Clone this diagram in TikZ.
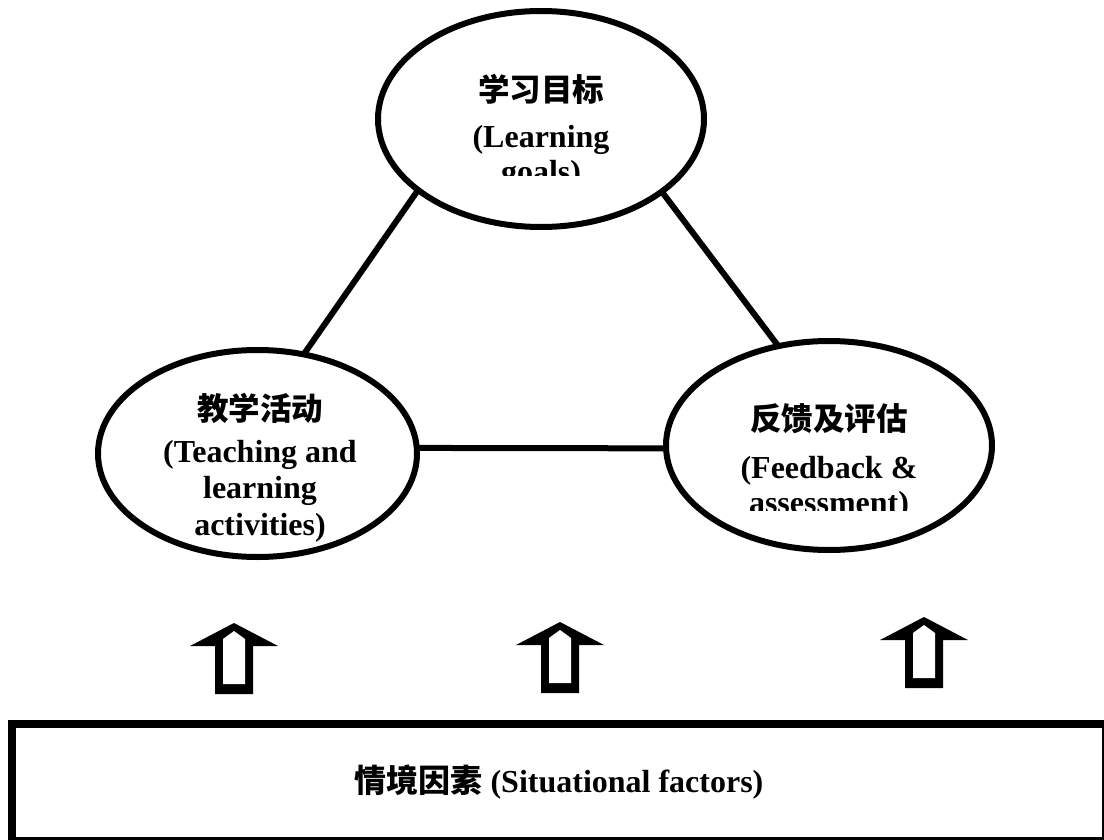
\documentclass[tikz,border=0pt]{standalone}
\usepackage{fontspec}
\setmainfont{Liberation Serif}
\newfontfamily\cjk{Noto Sans CJK SC}
\usetikzlibrary{shapes.geometric}
\newcommand\blockarrow[2]{%
  \fill ({#1},{#2}) -- ({#1+44},{#2+23}) -- ({#1+19},{#2+23}) -- ({#1+19},{#2+71})
        -- ({#1-19},{#2+71}) -- ({#1-19},{#2+23}) -- ({#1-44},{#2+23}) -- cycle;
  \fill[white] ({#1},{#2+8}) -- ({#1+11},{#2+16}) -- ({#1+11},{#2+61})
        -- ({#1-11},{#2+61}) -- ({#1-11},{#2+16}) -- cycle;
}
\begin{document}
\begin{tikzpicture}[x=1pt,y=-1pt,
  oval/.style={ellipse, draw, line width=6pt, inner sep=0pt, outer sep=0pt},
  link/.style={line width=6pt},
  lat/.style={font=\bfseries\fontsize{32}{37}\selectfont, inner sep=0pt, anchor=base},
  han/.style={font=\cjk\bfseries\fontsize{31.5}{37}\selectfont, inner sep=0pt, anchor=base},
  sitbox/.style={draw, line width=8pt, rectangle, inner sep=0pt, outer sep=0pt}
]
\useasboundingbox (0,0) rectangle (1104,840);
\clip (0,0) rectangle (1104,840);

% ellipses
\node[oval, minimum width=326pt, minimum height=216pt] (goals) at (541,119) {};
\node[oval, minimum width=319pt, minimum height=207pt] (teach) at (257.5,453.5) {};
\node[oval, minimum width=326pt, minimum height=209pt] (feed) at (829,445.5) {};

% texts
\begin{scope}
  \clip (380,0) rectangle (700,176);
  \node[han] (g1) at (541,102) {学习目标};
  \node[lat] (g2) at (541,148) {(Learning};
  \node[lat] (g3) at (541,183) {goals)};
\end{scope}

\node[han] (t1) at (260,420) {教学活动};
\node[lat] (t2) at (260,462) {(Teaching and};
\node[lat] (t3) at (260,498) {learning};
\node[lat] (t4) at (260,535) {activities)};

\begin{scope}
  \clip (670,380) rectangle (990,510);
  \node[han] (f1) at (829,430) {反馈及评估};
  \node[lat] (f2) at (829,478) {(Feedback \&};
  \node[lat] (f3) at (829,513) {assessment)};
\end{scope}

% connectors
\draw[link] (goals.210.6) -- (teach.65.6);
\draw[link] (goals.329.8) -- (feed.117);
\draw[link] (teach.2) -- (feed.181);

% block arrows
\blockarrow{234}{623}
\blockarrow{560}{622}
\blockarrow{924}{617}

% situational factors box
\node[sitbox, minimum width=1094pt, minimum height=117pt] (sit) at (559,782.5)
  {\fontsize{32}{37}\selectfont\bfseries{\cjk 情境因素} (Situational factors)};
\end{tikzpicture}
\end{document}
